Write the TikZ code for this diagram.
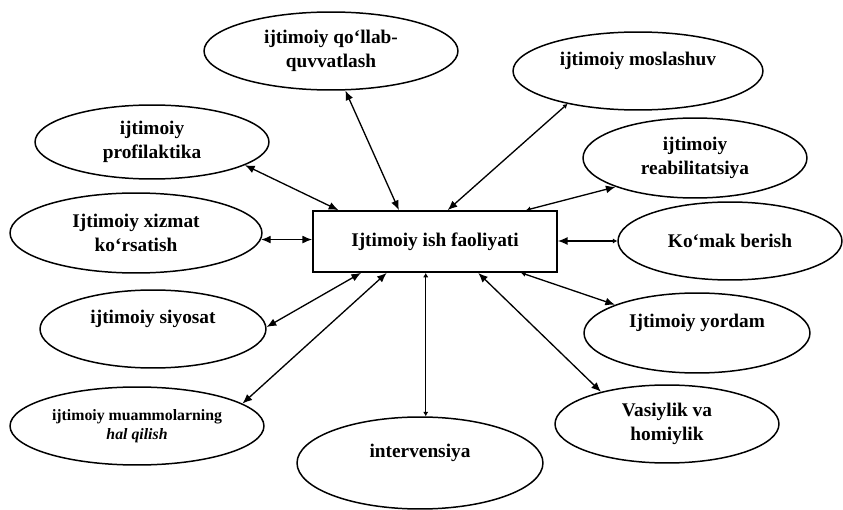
\documentclass[tikz,border=0pt]{standalone}
\usepackage{fontspec}
\setmainfont{Liberation Serif}
\usetikzlibrary{shapes.geometric,arrows.meta}

\begin{document}
\begin{tikzpicture}[x=0.02cm,y=-0.02cm,
            bub/.style={draw, line width=0.85pt, ellipse, inner sep=0pt, align=center,
                font=\fontsize{11}{13.5}\selectfont\bfseries},
            link/.style={line width=0.75pt},
            bigtip/.tip={Latex[length=5.5pt,width=4.5pt]},
            tinytip/.tip={Latex[length=2.5pt,width=3pt]}]
            \useasboundingbox (0,0) rectangle (843,510);
            \node [draw, line width=1pt, minimum width=4.88cm, minimum height=1.22cm,
                font=\fontsize{11}{13.5}\selectfont\bfseries] (faol) at (435,241.5) {Ijtimoiy ish faoliyati};
            \node [bub, minimum width=5.08cm, minimum height=1.56cm] (qol) at (331,51) {ijtimoiy qo‘llab-\\quvvatlash};
            \node [bub, minimum width=5cm, minimum height=1.56cm] (mosl) at (638,71) {ijtimoiy moslashuv\\\mbox{}};
            \node [bub, minimum width=4.48cm, minimum height=1.6cm] (reab) at (695,158) {ijtimoiy\\reabilitatsiya};
            \node [bub, minimum width=4.48cm, minimum height=1.56cm] (komak) at (730,241) {Ko‘mak berish};
            \node [bub, minimum width=4.52cm, minimum height=1.6cm] (yordam) at (697,333) {Ijtimoiy yordam\\\mbox{}};
            \node [bub, minimum width=4.48cm, minimum height=1.56cm] (vasiy) at (667,424) {Vasiylik va\\homiylik};
            \node [bub, minimum width=4.92cm, minimum height=1.84cm] (interv) at (420,463) {intervensiya\\\mbox{}};
            \node [bub, minimum width=5.08cm, minimum height=1.56cm,
                font=\fontsize{9}{11}\selectfont\bfseries] (muammo) at (137,426) {ijtimoiy muammolarning\\\textit{hal qilish}};
            \node [bub, minimum width=4.52cm, minimum height=1.56cm] (siyosat) at (153,329) {ijtimoiy siyosat\\\mbox{}};
            \node [bub, minimum width=5.04cm, minimum height=1.6cm] (xizmat) at (136,233) {Ijtimoiy xizmat\\ko‘rsatish};
            \node [bub, minimum width=4.68cm, minimum height=1.48cm] (prof) at (152,142) {ijtimoiy\\profilaktika};
            \draw [link, bigtip-bigtip] (qol.-70) -- (faol.139);
            \draw [link, bigtip-bigtip] (prof.-14) -- (faol.162.5);
            \draw [link, tinytip-bigtip] (mosl.205) -- (faol.68.5);
            \draw [link, bigtip-tinytip] (reab.200) -- (faol.19);
            \draw [link, bigtip-bigtip] (xizmat.-3) -- (xizmat.-3 -| faol.west);
            \draw [link, tinytip-bigtip] (komak.west) -- (komak.west -| faol.east);
            \draw [link, bigtip-bigtip] (siyosat.1) -- (faol.203);
            \draw [link, bigtip-bigtip] (muammo.12) -- (faol.213);
            \draw [link, tinytip-tinytip] (interv.83) -- (interv.83 |- faol.south);
            \draw [link, bigtip-bigtip] (vasiy.154) -- (faol.324);
            \draw [link, bigtip-tinytip] (yordam.161) -- (faol.340);
\end{tikzpicture}
\end{document}
